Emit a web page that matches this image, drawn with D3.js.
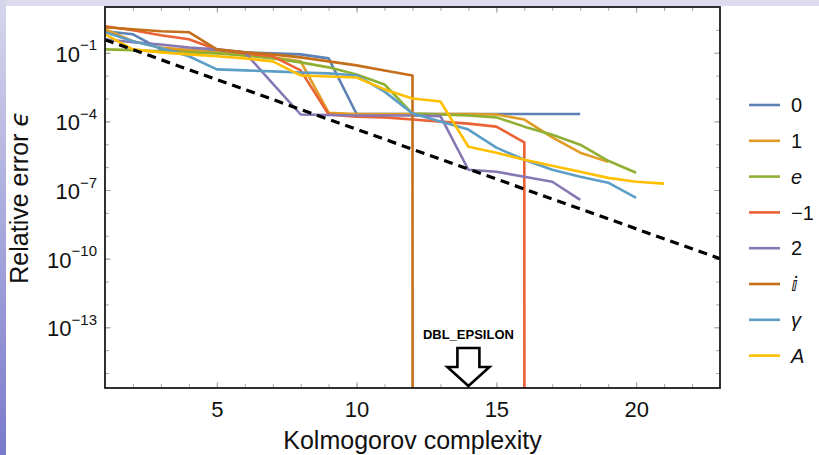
<!DOCTYPE html>
<html>
<head>
<meta charset="utf-8">
<script src="https://cdn.jsdelivr.net/npm/d3@7"></script>
<style>
  body { margin: 0; background: #fff; }
  svg { display: block; font-family: "Liberation Sans", Arial, sans-serif; }
</style>
</head>
<body>
<div id="chart"></div>
<script>
// labels + colours of the 8 constants (mathematica default palette)
const seriesLabels = ["0", "1", "e", "\u22121", "2", "\u2148", "\u03b3", "A"];
const seriesItalic = [false, false, true, false, false, true, true, true];
const seriesColors = ["#5e81b5", "#e19c24", "#8fb032", "#eb6235", "#8778b3", "#c56e1a", "#5d9ec7", "#ffbf00"];

// relative error at complexity 1, 2, 3, ...   (0 = exact, drops off the plot)
const errZero  = [0.87, 0.64, 0.14, 0.13, 0.115, 0.104, 0.094, 0.085, 0.057, 2.1e-4, 2.1e-4, 2.1e-4, 2.1e-4, 2.1e-4, 2.1e-4, 2.1e-4, 2.1e-4, 2.1e-4];
const errOne   = [1.06, 0.32, 0.17, 0.13, 0.104, 0.077, 0.063, 0.042, 2.4e-4, 2.1e-4, 2.1e-4, 2.1e-4, 2.1e-4, 2.1e-4, 2.0e-4, 1.2e-4, 2.0e-5, 4.3e-6, 1.7e-6];
const errE     = [0.14, 0.13, 0.115, 0.104, 0.094, 0.077, 0.057, 0.038, 0.023, 0.0113, 0.0041, 2.2e-4, 2.0e-4, 1.8e-4, 1.5e-4, 5.9e-5, 2.6e-5, 9.6e-6, 1.9e-6, 5.7e-7];
const errMinus = [1.44, 0.96, 0.58, 0.39, 0.14, 0.094, 0.070, 0.0169, 2.0e-4, 1.6e-4, 1.5e-4, 1.2e-4, 9.8e-5, 8.0e-5, 5.9e-5, 1.2e-5, 0];
const errTwo   = [0.39, 0.29, 0.23, 0.17, 0.14, 0.104, 0.0045, 2.0e-4, 1.9e-4, 1.8e-4, 1.8e-4, 1.8e-4, 1.7e-4, 7.7e-7, 6.3e-7, 3.8e-7, 2.3e-7, 3.7e-8];
const errI     = [1.3, 1.06, 0.87, 0.79, 0.14, 0.104, 0.085, 0.063, 0.042, 0.028, 0.0169, 0.0102, 0];
const errGamma = [0.79, 0.32, 0.16, 0.070, 0.0187, 0.0169, 0.0153, 0.0138, 0.0125, 0.0102, 0.0020, 2.2e-4, 9.8e-5, 4.4e-5, 7.1e-6, 2.1e-6, 7.7e-7, 3.8e-7, 2.1e-7, 4.5e-8];
const errA     = [0.64, 0.14, 0.104, 0.085, 0.070, 0.057, 0.042, 0.0102, 0.0092, 0.0083, 0.0025, 0.001, 7.4e-4, 7.8e-6, 4.3e-6, 2.1e-6, 1.15e-6, 6.3e-7, 3.4e-7, 2.3e-7, 1.9e-7];
const allErrors = [errZero, errOne, errE, errMinus, errTwo, errI, errGamma, errA];

// dashed reference line
const boundLine = [[1, 0.37], [23, 1.0e-10]];

const xMajor = [5, 10, 15, 20];
const yMajorExp = [-1, -4, -7, -10, -13];
const dblEpsilon = 2.22e-16;
const epsilonAt = 14;

const width = 819, height = 455;
const margin = {top: 7, right: 99, bottom: 67, left: 105};

let svg = d3.select("#chart").append("svg")
    .attr("width", width)
    .attr("height", height);

// slide decoration: thin bands at top and left
let defs = svg.append("defs");
let grad = defs.append("linearGradient").attr("id", "sideGrad")
    .attr("x1", 0).attr("y1", 0).attr("x2", 0).attr("y2", 1);
grad.append("stop").attr("offset", "0%").attr("stop-color", "#d6d6ec");
grad.append("stop").attr("offset", "100%").attr("stop-color", "#7a7acd");
svg.append("rect").attr("x", 0).attr("y", 0).attr("width", width).attr("height", 6).attr("fill", "#dcdcee");
svg.append("rect").attr("x", 0).attr("y", 0).attr("width", 6).attr("height", height).attr("fill", "url(#sideGrad)");

let x = d3.scaleLinear().domain([1, 23]).range([margin.left, width - margin.right]);
let y = d3.scaleLog().domain([dblEpsilon, 10]).range([height - margin.bottom, margin.top]);
let yv = (v) => v > 0 ? y(v) : 1e5;   // exact (0) goes straight down

defs.append("clipPath").attr("id", "plotClip").append("rect")
    .attr("x", x.range()[0]).attr("y", y.range()[1])
    .attr("width", x.range()[1] - x.range()[0])
    .attr("height", y.range()[0] - y.range()[1]);

// minor / major ticks on all four sides, inward, grey
let minorX = d3.range(2, 23);
let minorY = d3.range(-15, 1).map(e => Math.pow(10, e));
let majorY = yMajorExp.map(e => Math.pow(10, e));

function tickGroup(axis, tx, ty) {
    let g = svg.append("g").attr("transform", "translate(" + tx + "," + ty + ")").call(axis);
    g.select(".domain").remove();
    g.selectAll(".tick line").attr("stroke", "#a8a8a8");
    return g;
}
let x0 = x.range()[0], x1 = x.range()[1], y0 = y.range()[0], y1 = y.range()[1];

tickGroup(d3.axisBottom(x).tickValues(minorX).tickSize(-4).tickFormat(""), 0, y0);
tickGroup(d3.axisTop(x).tickValues(minorX).tickSize(-4).tickFormat(""), 0, y1);
tickGroup(d3.axisTop(x).tickValues(xMajor).tickSize(-6).tickFormat(""), 0, y1);
tickGroup(d3.axisLeft(y).tickValues(minorY).tickSize(-4).tickFormat(""), x0, 0);
tickGroup(d3.axisRight(y).tickValues(minorY).tickSize(-4).tickFormat(""), x1, 0);
tickGroup(d3.axisRight(y).tickValues(majorY).tickSize(-6).tickFormat(""), x1, 0);

let xAxisG = tickGroup(d3.axisBottom(x).tickValues(xMajor).tickSize(-6).tickPadding(13), 0, y0);
xAxisG.selectAll("text").attr("font-size", 22).attr("fill", "#111").attr("font-family", "Liberation Sans, Arial, sans-serif");

let yAxisG = tickGroup(d3.axisLeft(y).tickValues(majorY).tickSize(-6).tickPadding(8), x0, 0);
yAxisG.selectAll("text").each(function(d) {
    let t = d3.select(this).text("")
        .attr("font-size", 22).attr("fill", "#111")
        .attr("font-family", "Liberation Sans, Arial, sans-serif")
        .attr("dy", "0.38em");
    t.append("tspan").text("10");
    t.append("tspan").attr("font-size", 15).attr("dy", "-0.75em")
        .text("\u2212" + Math.round(-Math.log10(d)));
});

// data lines
let line = d3.line().x((d, i) => x(i + 1)).y(d => yv(d));
let plot = svg.append("g").attr("clip-path", "url(#plotClip)");
plot.selectAll(".series")
    .data(allErrors)
    .enter().append("path")
    .attr("class", "series")
    .attr("d", line)
    .attr("fill", "none")
    .attr("stroke", (d, i) => seriesColors[i])
    .attr("stroke-width", 2.6)
    .attr("stroke-linejoin", "round");

plot.append("path")
    .datum(boundLine)
    .attr("d", d3.line().x(d => x(d[0])).y(d => y(d[1])))
    .attr("fill", "none")
    .attr("stroke", "#000")
    .attr("stroke-width", 3.2)
    .attr("stroke-dasharray", "9,6");

// frame
svg.append("rect")
    .attr("x", x0).attr("y", y1)
    .attr("width", x1 - x0).attr("height", y0 - y1)
    .attr("fill", "none").attr("stroke", "#1a1a1a").attr("stroke-width", 1.8);

// DBL_EPSILON marker
let ax = x(epsilonAt), tip = y(dblEpsilon) - 2;
svg.append("text")
    .attr("x", ax).attr("y", tip - 47)
    .attr("text-anchor", "middle")
    .attr("font-size", 13).attr("font-weight", "bold")
    .text("DBL_EPSILON");
svg.append("path")
    .attr("d", "M" + (ax - 11) + "," + (tip - 38) + " L" + (ax + 11) + "," + (tip - 38) +
               " L" + (ax + 11) + "," + (tip - 19) + " L" + (ax + 21) + "," + (tip - 19) +
               " L" + ax + "," + tip + " L" + (ax - 21) + "," + (tip - 19) +
               " L" + (ax - 11) + "," + (tip - 19) + " Z")
    .attr("fill", "#fff").attr("stroke", "#000").attr("stroke-width", 2.6)
    .attr("stroke-linejoin", "miter");

// axis titles
svg.append("text")
    .attr("x", (x0 + x1) / 2).attr("y", 449)
    .attr("text-anchor", "middle")
    .attr("font-size", 25).attr("fill", "#111")
    .text("Kolmogorov complexity");

let yTitle = svg.append("text")
    .attr("transform", "translate(28," + ((y0 + y1) / 2) + ") rotate(-90)")
    .attr("text-anchor", "middle")
    .attr("font-size", 25).attr("fill", "#111");
yTitle.append("tspan").text("Relative error ");
yTitle.append("tspan").attr("font-style", "italic").attr("font-family", "DejaVu Sans, sans-serif").text("\u03f5");

// legend
let legend = svg.append("g").attr("transform", "translate(749,105)");
let items = legend.selectAll("g")
    .data(seriesLabels)
    .enter().append("g")
    .attr("transform", (d, i) => "translate(0," + (i * 35.8) + ")");
items.append("line")
    .attr("x1", 0).attr("x2", 31)
    .attr("stroke", (d, i) => seriesColors[i])
    .attr("stroke-width", 2.6);
items.append("text")
    .attr("x", 42).attr("dy", "0.36em")
    .attr("font-size", 20).attr("fill", "#111")
    .attr("font-style", (d, i) => seriesItalic[i] ? "italic" : null)
    .attr("font-family", (d, i) => i == 5 ? "DejaVu Sans, sans-serif" : null)
    .text(d => d);
</script>
</body>
</html>
